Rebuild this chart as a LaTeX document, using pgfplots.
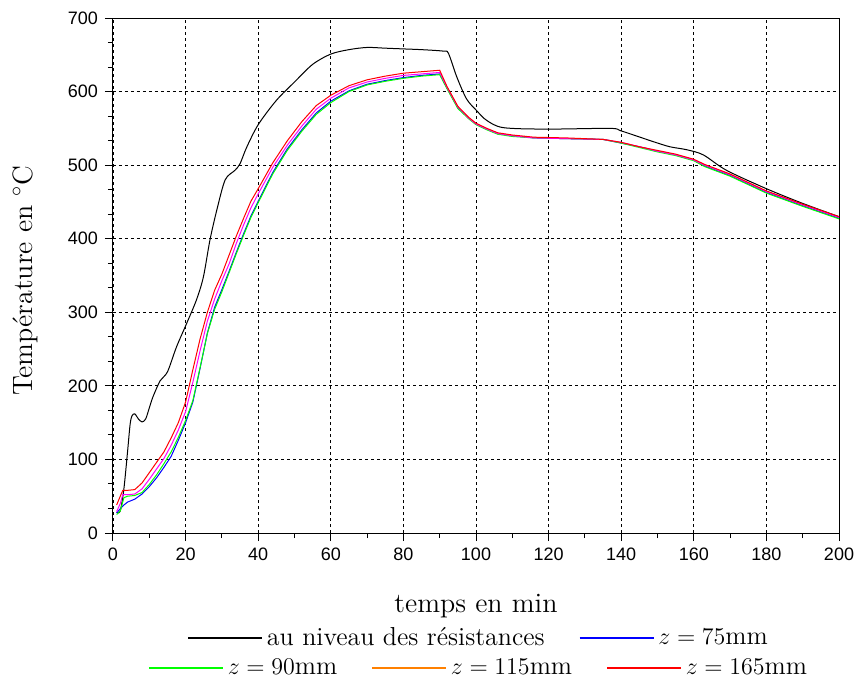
\documentclass[border=0pt]{standalone}
\usepackage{pgfplots}
\pgfplotsset{compat=1.18}
\usepackage{fontspec}
\setsansfont{Liberation Sans}
\definecolor{cblue}{RGB}{0,0,255}
\definecolor{cgreen}{RGB}{0,255,0}
\definecolor{corange}{RGB}{255,128,0}
\definecolor{cred}{RGB}{255,0,0}
\definecolor{cmag}{RGB}{255,0,255}
\begin{document}
\begin{tikzpicture}
\pgfplotsset{
  mylegend/.style={
    legend style={draw=none, fill=none, font=\fontsize{13}{15}\selectfont,
      /tikz/every even column/.append style={column sep=15pt}},
    legend columns=-1,
    legend image code/.code={\draw[##1,line width=0.8pt] (0pt,0pt) -- (37pt,0pt);},
  }
}
\begin{axis}[
  width=363pt, height=257.5pt, scale only axis,
  xmin=0, xmax=200, ymin=0, ymax=700,
  xtick={0,20,...,200}, ytick={0,100,...,700},
  minor x tick num=1, minor y tick num=2,
  xtick pos=bottom, ytick pos=left,
  tick align=outside,
  major tick length=4pt, minor tick length=2.5pt,
  tick style={black, line width=0.5pt},
  axis line style={line width=0.5pt},
  grid=major,
  major grid style={black, line width=0.4pt, dash pattern=on 1.7pt off 1.3pt},
  /pgf/number format/assume math mode=true,
  ticklabel style={font=\sffamily\fontsize{9}{10}\selectfont},
  xlabel={temps en min},
  ylabel={Temp\'erature en $^\circ$C},
  every axis x label/.style={at={(axis description cs:0.5,-0.1417)}, anchor=center, font=\fontsize{14}{16}\selectfont},
  every axis y label/.style={at={(axis description cs:-0.1212,0.49)}, anchor=center, rotate=90, font=\fontsize{14}{16}\selectfont},
  every axis plot/.append style={line width=0.5pt},
]
% black: au niveau des resistances
\addplot[black, smooth] coordinates {
(1,28) (2,30) (3,60) (4,110) (4.7,147) (5.2,159) (6,162) (7,155) (8,151) (9,155) (10,170) (11,185)
(13,207) (15,219) (17.5,253) (20.3,285) (23,317) (24.9,348) (26.7,398) (28.6,439) (30.9,480)
(33.6,493) (35,502) (36.8,524) (40,555) (45,588) (50,613) (55,637) (60,651) (65,657) (70,660)
(75,659) (80,658) (85,657) (91,655) (92.4,652) (94.7,620) (97.4,590) (100.2,574) (102.9,561)
(107.5,551) (119.4,549) (136.9,550) (139.7,547) (144,540) (148.8,532) (153.4,525) (158,521)
(162.6,514) (169,493) (180,468) (190,448) (200,430)
};
% blue z=75
\addplot[cblue] coordinates {
(1,27) (2,33) (3,38) (4,42) (6,46) (8,53) (10,63) (12,75) (14,89) (16,104) (18,126) (20,150)
(22,178) (24,224) (26,272) (28,307) (30,331) (32,356) (34,382) (36,407) (38,431) (40,451)
(44,490) (48,522) (52,548) (56,571) (60,587) (65,601) (70,610) (75,615) (80,619) (85,622)
(90,624) (92,605) (95,578) (98,564) (100,556) (103,549) (106,543) (110,540) (116,537) (125,536)
(135,535) (140,530) (145,525) (150,519) (155,514) (160,507) (163,499) (170,486) (180,463)
(190,445) (200,428)
};
% green z=90
\addplot[cgreen] coordinates {
(1,25) (2,30) (3,48) (4,50) (6,51) (8,55) (10,66) (12,79) (14,94) (16,110) (18,130) (20,153)
(22,180) (24,225) (26,271) (28,304) (30,328) (32,354) (34,380) (36,405) (38,429) (40,449)
(44,488) (48,520) (52,546) (56,569) (60,585) (65,600) (70,609) (75,614) (80,618) (85,621)
(90,623) (92,604) (95,577) (98,563) (100,555) (103,548) (106,542) (110,539) (116,537) (125,536)
(135,535) (140,530) (145,524) (150,518) (155,513) (160,506) (163,498) (170,485) (180,462)
(190,444) (200,427)
};
% magenta (z=115)
\addplot[cmag] coordinates {
(1,29) (2,40) (2.7,52) (4,52) (6,53) (8,60) (10,73) (12,87) (14,101) (16,119) (18,140) (20,165)
(22,205) (24,248) (26,288) (28,318) (30,343) (32,366) (34,394) (36,419) (38,442) (40,461)
(44,497) (48,527) (52,553) (56,576) (60,591) (65,605) (70,613) (75,618) (80,622) (85,624)
(90,626) (92,606) (95,579) (98,564) (100,556) (103,549) (106,543) (110,540) (116,537) (125,536)
(135,535) (140,531) (145,525) (150,519) (155,514) (160,507) (163,500) (170,487) (180,464)
(190,446) (200,429)
};
% red z=165
\addplot[cred] coordinates {
(1,38) (2,50) (2.7,58) (4,58) (6,59) (8,68) (10,82) (12,96) (14,110) (16,129) (18,150) (20,178)
(22,222) (24,264) (26,300) (28,330) (30,352) (32,378) (34,404) (36,428) (38,451) (40,468)
(44,503) (48,533) (52,559) (56,581) (60,595) (65,608) (70,616) (75,621) (80,625) (85,627)
(90,629) (92,607) (95,580) (98,565) (100,557) (103,550) (106,544) (110,541) (116,538) (125,537)
(135,535) (140,531) (145,525) (150,520) (155,515) (160,508) (163,501) (170,488) (180,465)
(190,447) (200,430)
};
\end{axis}
\begin{axis}[
  width=363pt, height=257.5pt, scale only axis, hide axis,
  xmin=0, xmax=1, ymin=0, ymax=1,
  mylegend,
  legend style={at={(0.505,-0.2039)}, anchor=center},
]
\addlegendimage{black}
\addlegendentry{au niveau des r\'esistances}
\addlegendimage{cblue}
\addlegendentry{$z=75$mm}
\end{axis}
\begin{axis}[
  width=363pt, height=257.5pt, scale only axis, hide axis,
  xmin=0, xmax=1, ymin=0, ymax=1,
  mylegend,
  legend style={at={(0.505,-0.262)}, anchor=center},
]
\addlegendimage{cgreen}
\addlegendentry{$z=90$mm}
\addlegendimage{corange}
\addlegendentry{$z=115$mm}
\addlegendimage{cred}
\addlegendentry{$z=165$mm}
\end{axis}
\pgfresetboundingbox
\path[use as bounding box] (-56.5pt,-73.5pt) rectangle (371pt,266.5pt);
\end{tikzpicture}
\end{document}
